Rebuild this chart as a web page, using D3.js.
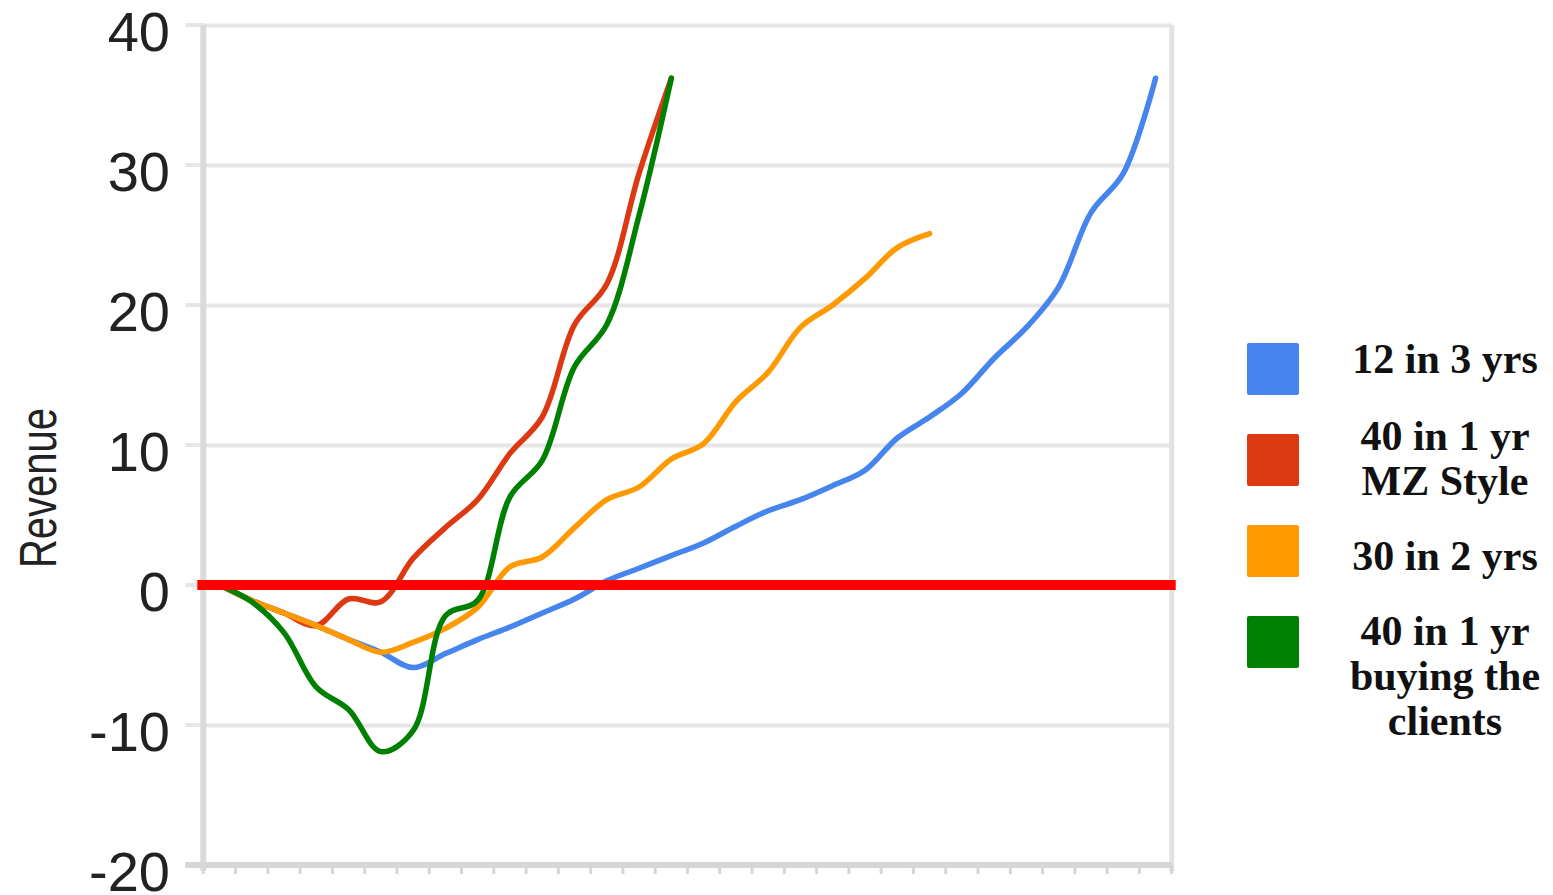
<!DOCTYPE html>
<html>
<head>
<meta charset="utf-8">
<script src="https://cdn.jsdelivr.net/npm/d3@7"></script>
<style>
  html, body { margin: 0; padding: 0; background: #fff; }
  svg { display: block; }
</style>
</head>
<body>
<svg id="chart" width="1553" height="895"></svg>
<script>
// ---- data ----
const periods = d3.range(1, 31).map(String);           // 30 periods on the x axis
const yTicks = [-20, -10, 0, 10, 20, 30, 40];
const seriesNames = ["12 in 3 yrs", "40 in 1 yr MZ Style", "30 in 2 yrs", "40 in 1 yr buying the clients"];
const legendLines = [["12 in 3 yrs"], ["40 in 1 yr", "MZ Style"], ["30 in 2 yrs"], ["40 in 1 yr", "buying the", "clients"]];
const colors = ["#4684ee", "#dc3912", "#ff9900", "#008000"];
const blue   = [0, -1.1, -2.0, -2.9, -3.9, -4.8, -5.9, -4.9, -3.9, -3.0, -2.0, -1.0, 0.3, 1.2, 2.1, 3.0, 4.2, 5.3, 6.1, 7.1, 8.2, 10.5, 12.0, 13.7, 16.2, 18.4, 21.3, 26.6, 29.4, 36.2];
const red    = [0, -1.1, -2.0, -2.9, -1.0, -1.2, 1.9, 4.1, 6.1, 9.4, 12.0, 18.6, 21.5, 29.4, 36.2];
const orange = [0, -1.1, -2.0, -2.9, -3.9, -4.8, -4.1, -3.1, -1.6, 1.3, 2.0, 4.1, 6.1, 7.0, 9.0, 10.1, 13.1, 15.2, 18.4, 20.0, 21.9, 24.1, 25.1];
const green  = [0, -1.2, -3.4, -7.3, -8.9, -11.9, -10.4, -2.2, -1.1, 6.3, 8.9, 15.6, 18.6, 26.4, 36.2];
const seriesValues = [blue, red, orange, green];
const breakEven = 0;

// ---- layout ----
const svg = d3.select("#chart");
const plotLeft = 203.3, plotRight = 1171.7, plotTop = 25, plotBottom = 865;

const x = d3.scaleBand().domain(periods).range([plotLeft, plotRight]).padding(0);
const y = d3.scaleLinear().domain([-20, 40]).range([plotBottom, plotTop]);

// gridlines
svg.append("g")
  .attr("transform", `translate(${plotLeft},0)`)
  .call(d3.axisLeft(y).tickValues(yTicks).tickSize(-(plotRight - plotLeft)).tickFormat(""))
  .call(g => g.select(".domain").remove())
  .call(g => g.selectAll("line").attr("stroke", "#e6e6e6").attr("stroke-width", 4));

// small left tick stubs
svg.append("g")
  .selectAll("line").data(yTicks).join("line")
  .attr("x1", plotLeft - 18).attr("x2", plotLeft)
  .attr("y1", d => y(d)).attr("y2", d => y(d))
  .attr("stroke", "#e6e6e6").attr("stroke-width", 4);

// y tick labels
svg.append("g")
  .selectAll("text").data(yTicks).join("text")
  .attr("x", 170).attr("y", d => y(d) + 26)
  .attr("text-anchor", "end")
  .attr("font-family", "Liberation Sans, Arial, sans-serif")
  .attr("font-size", 56)
  .attr("fill", "#222")
  .text(d => d);

// frame: left, right axis lines
svg.append("line").attr("x1", plotLeft).attr("x2", plotLeft).attr("y1", plotTop).attr("y2", plotBottom + 6)
  .attr("stroke", "#dadada").attr("stroke-width", 6);
svg.append("line").attr("x1", plotRight).attr("x2", plotRight).attr("y1", plotTop).attr("y2", plotBottom + 6)
  .attr("stroke", "#e2e2e2").attr("stroke-width", 5);

// bottom axis with ticks at band edges
const edges = periods.map(p => x(p)).concat([plotRight]);
svg.append("line").attr("x1", plotLeft - 18).attr("x2", plotRight).attr("y1", plotBottom).attr("y2", plotBottom)
  .attr("stroke", "#d6d6d6").attr("stroke-width", 6);
svg.append("g").selectAll("line").data(edges).join("line")
  .attr("x1", d => d).attr("x2", d => d).attr("y1", plotBottom).attr("y2", plotBottom + 9)
  .attr("stroke", "#d6d6d6").attr("stroke-width", 3);

// y-axis title
svg.append("text")
  .attr("transform", `translate(56,488) rotate(-90)`)
  .attr("text-anchor", "middle")
  .attr("font-family", "Liberation Sans, Arial, sans-serif")
  .attr("font-size", 52)
  .attr("textLength", 160)
  .attr("lengthAdjust", "spacingAndGlyphs")
  .attr("fill", "#222")
  .text("Revenue");

// series lines
const line = d3.line()
  .x((d, i) => x(periods[i]) + x.bandwidth() / 2)
  .y(d => y(d))
  .curve(d3.curveCatmullRom.alpha(0.5));

svg.append("g").selectAll("path").data(seriesValues).join("path")
  .attr("d", d => line(d))
  .attr("fill", "none")
  .attr("stroke", (d, i) => colors[i])
  .attr("stroke-width", 5.5)
  .attr("stroke-linejoin", "round")
  .attr("stroke-linecap", "round");

// break-even line
svg.append("line")
  .attr("x1", plotLeft - 6).attr("x2", plotRight + 4)
  .attr("y1", y(breakEven)).attr("y2", y(breakEven))
  .attr("stroke", "#ff0000").attr("stroke-width", 10);

// legend
const legTop = 343, legStep = 91, sw = 52;
const firstBaseline = [30, 16, 45, 29];
const leg = svg.append("g");
seriesNames.forEach((name, i) => {
  const ty = legTop + i * legStep;
  leg.append("rect").attr("x", 1247).attr("y", ty).attr("width", sw).attr("height", sw)
    .attr("rx", 2).attr("fill", colors[i]);
  legendLines[i].forEach((t, j) => {
    leg.append("text")
      .attr("x", 1445).attr("y", ty + firstBaseline[i] + j * 45)
      .attr("text-anchor", "middle")
      .attr("font-family", "Liberation Serif, Times New Roman, serif")
      .attr("font-weight", "bold")
      .attr("font-size", 42)
      .attr("fill", "#111")
      .text(t);
  });
});
</script>
</body>
</html>
